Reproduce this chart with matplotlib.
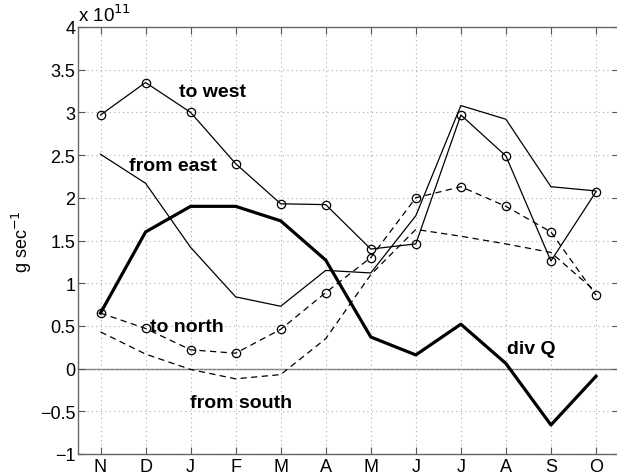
import matplotlib
matplotlib.use('Agg')
from matplotlib import pyplot as plt

# months, values in units of 1e11 g/sec
months = ['N', 'D', 'J', 'F', 'M', 'A', 'M', 'J', 'J', 'A', 'S', 'O']
to_west = [2.97, 3.35, 3.0, 2.4, 1.93, 1.92, 1.40, 1.46, 2.97, 2.49, 1.26, 2.07]
from_east = [2.51, 2.17, 1.42, 0.84, 0.73, 1.15, 1.12, 1.79, 3.08, 2.92, 2.13, 2.08]
to_north = [0.65, 0.47, 0.22, 0.18, 0.46, 0.89, 1.30, 2.0, 2.13, 1.90, 1.60, 0.86]
from_south = [0.43, 0.17, -0.01, -0.12, -0.07, 0.35, 1.10, 1.63, 1.55, 1.46, 1.36, 0.90]
div_q = [0.65, 1.60, 1.90, 1.90, 1.73, 1.27, 0.37, 0.16, 0.52, 0.06, -0.66, -0.09]

x = list(range(1, len(months) + 1))

plt.rcParams['font.family'] = ['Liberation Sans', 'DejaVu Sans']
fig = plt.figure(figsize=(6.17, 4.77), dpi=100)
ax = fig.add_axes([78 / 617, 22 / 477, 540.5 / 617, 427 / 477])

dash = (0, (5, 3.5))
ax.axhline(0, color='#777777', lw=1, zorder=1)
ax.plot(x, from_east, color='black', lw=0.9)
ax.plot(x, to_west, color='black', lw=0.9, marker='o', ms=6, mfc='none', mec='black', mew=0.9)
ax.plot(x, from_south, color='black', lw=0.9, ls=dash)
ax.plot(x, to_north, color='black', lw=0.9, ls=dash, marker='o', ms=6, mfc='none', mec='black', mew=0.9)
ax.plot(x, div_q, color='black', lw=2.3)

# labels on the curves
lab = dict(fontsize=14, fontweight='bold', ha='center', va='center')
ax.text(3.49, 3.24, 'to west', **lab)
ax.text(2.6, 2.38, 'from east', **lab)
ax.text(2.91, 0.49, 'to north', **lab)
ax.text(4.13, -0.40, 'from south', **lab)
ax.text(10.56, 0.24, 'div Q', **lab)

ax.set_xlim(0.5, 12.5)
ax.set_ylim(-1, 4)
ax.set_xticks(x)
ax.set_xticklabels(months)
ax.set_yticks([-1, -0.5, 0, 0.5, 1, 1.5, 2, 2.5, 3, 3.5, 4])
ax.set_yticklabels(['\u22121', '\u22120.5', '0', '0.5', '1', '1.5', '2', '2.5', '3', '3.5', '4'])
ax.tick_params(direction='in', length=5, width=0.8, color='#555555', labelsize=13,
               top=True, right=True)
ax.tick_params(axis='x', pad=3)
ax.tick_params(axis='y', pad=2)
ax.grid(True, ls=(0, (1, 3)), color='#aaaaaa', lw=0.8)
for s in ax.spines.values():
    s.set_color('#666666')
    s.set_linewidth(1)

ax.set_ylabel('g sec$^{-1}$', fontsize=13, labelpad=4)
ax.text(0.0, 1.005, 'x 10$^{11}$', transform=ax.transAxes, fontsize=13.5, ha='left', va='bottom')

fig.savefig('out.png', dpi=100)
